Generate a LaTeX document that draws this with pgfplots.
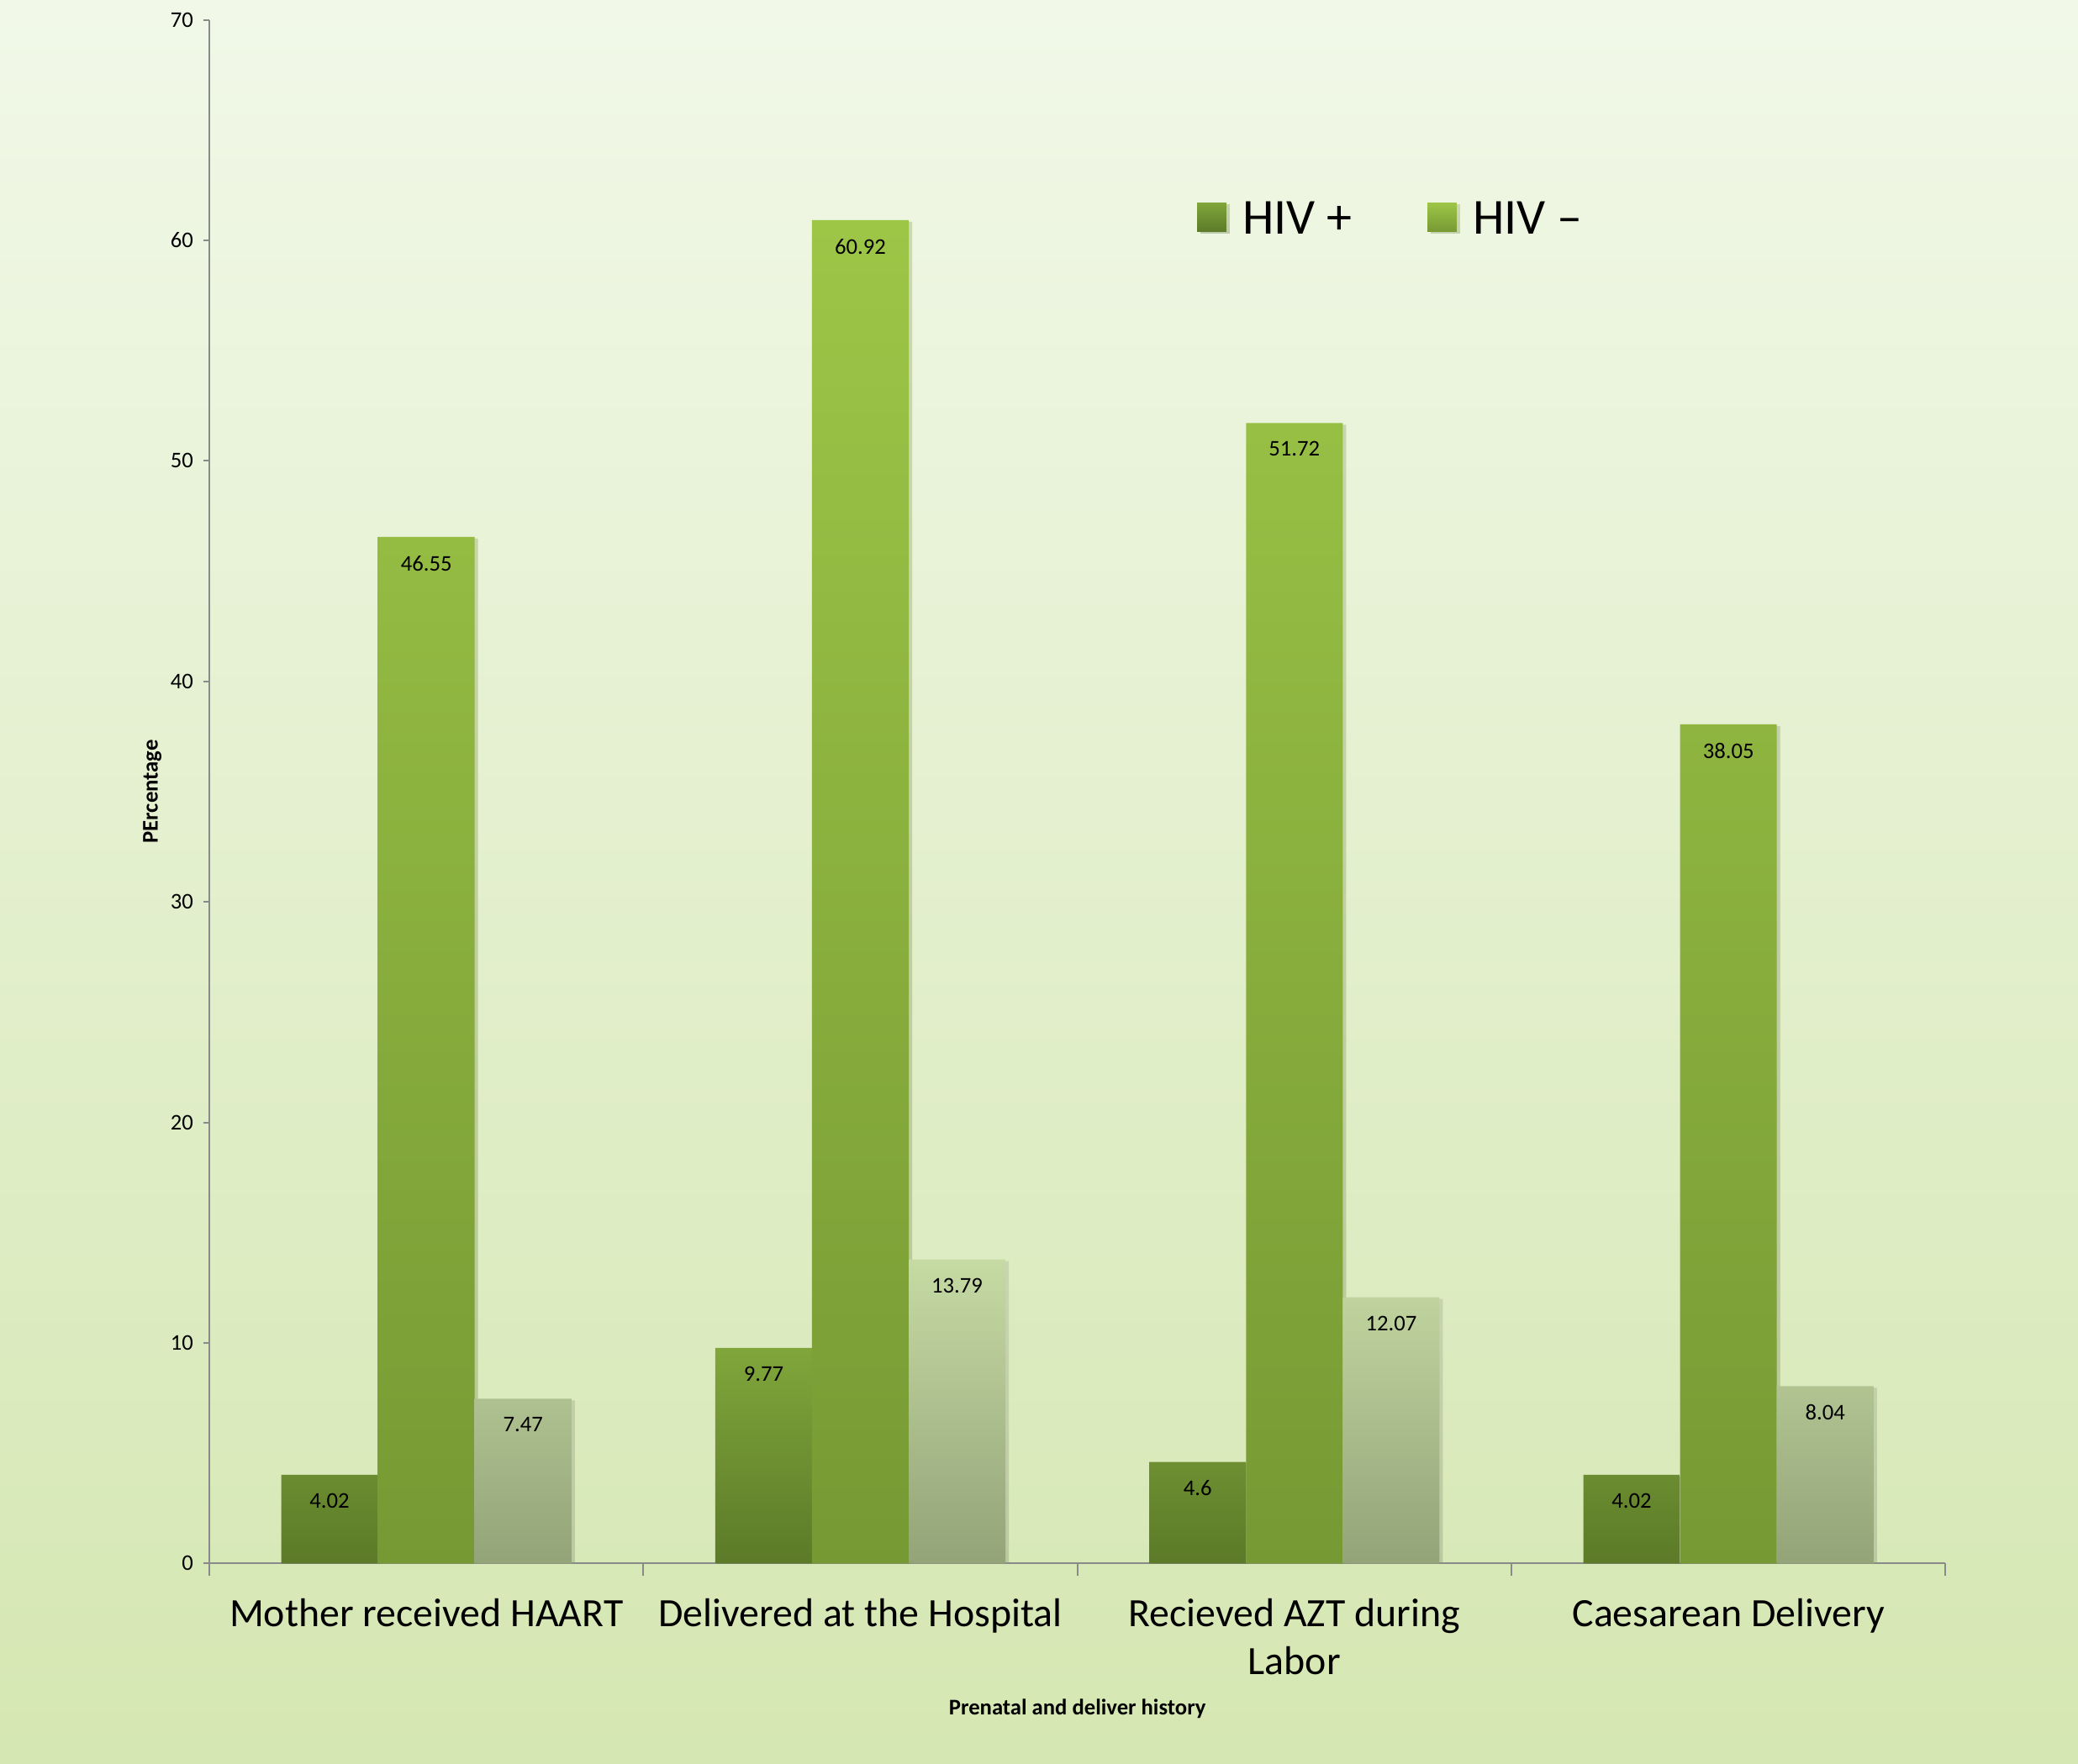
\documentclass[border=0pt]{standalone}
\usepackage{fontspec}
\setmainfont{Carlito}
\usepackage{pgfplots}
\pgfplotsset{compat=1.18}
\usetikzlibrary{shadows}

\definecolor{bgtop}{HTML}{F1F8E8}
\definecolor{bgbot}{HTML}{D5E7B2}
\definecolor{posTop}{HTML}{80A63B}
\definecolor{posBot}{HTML}{5C7A28}
\definecolor{negTop}{HTML}{9DC647}
\definecolor{negBot}{HTML}{779934}
\definecolor{thTop}{HTML}{C6DAA4}
\definecolor{thBot}{HTML}{93A478}
\definecolor{axgray}{HTML}{8A8A8A}

\begin{document}
\begin{tikzpicture}
\useasboundingbox (-74.7pt,-71.4pt) rectangle (666.9pt,558.1pt);
\shade[top color=bgtop, bottom color=bgbot] (-74.7pt,-71.4pt) rectangle (666.9pt,558.1pt);

\begin{axis}[
  at={(0,0)}, anchor=south west,
  width=619.6pt, height=551pt, scale only axis,
  /pgf/number format/assume math mode=true,
  xmin=-0.5, xmax=3.5,
  ymin=0, ymax=70,
  axis lines*=left,
  axis line style={axgray, line width=0.6pt},
  tick align=outside,
  major tick length=2.2pt,
  minor tick length=4.5pt,
  tick style={axgray, line width=0.6pt},
  ytick={0,10,...,70},
  yticklabel style={font=\fontsize{8}{9.6}\selectfont},
  xtick={0,1,2,3},
  xticklabels={Mother received HAART, Delivered at the Hospital, Recieved AZT during\\Labor, Caesarean Delivery},
  every major x tick/.append style={draw=none},
  minor xtick={-0.5,0.5,1.5,2.5,3.5},
  xticklabel style={font=\fontsize{14.35}{17}\selectfont, align=center, anchor=north, inner sep=0pt, yshift=-10.3pt},
  xlabel={Prenatal and deliver history},
  ylabel={PErcentage},
  every axis x label/.style={at={(axis description cs:0.5,-0.0944)}, anchor=center, font=\bfseries\fontsize{8}{9.6}\selectfont},
  every axis y label/.style={at={(axis description cs:-0.0328,0.5)}, rotate=90, anchor=center, font=\bfseries\fontsize{8}{9.6}\selectfont},
  ybar, bar width=0.2229,
  nodes near coords,
  every node near coord/.append style={font=\fontsize{8}{9.6}\selectfont, anchor=north, inner sep=0pt, yshift=-6.5pt, black},
  legend columns=2,
  legend style={at={(axis description cs:0.5687,0.8705)}, anchor=west, draw=none, fill=none, inner sep=0pt,
    font=\fontsize{18}{21.6}\selectfont, cells={anchor=west},
    /tikz/every even column/.append style={column sep=25pt}},
  legend image code/.code={\fill[#1] (0pt,-4.3pt) rectangle (10.4pt,6.1pt); \path (14.2pt,0pt);},
]
\addplot[bar shift=-0.2229, draw=none, top color=posTop, bottom color=posBot,
  drop shadow={shadow xshift=1.2pt, shadow yshift=-0.6pt, opacity=0.2}]
  coordinates {(0,4.02) (1,9.77) (2,4.6) (3,4.02)};
\addplot[bar shift=0, draw=none, top color=negTop, bottom color=negBot,
  drop shadow={shadow xshift=1.2pt, shadow yshift=-0.6pt, opacity=0.2}]
  coordinates {(0,46.55) (1,60.92) (2,51.72) (3,38.05)};
\addplot[bar shift=0.2229, draw=none, top color=thTop, bottom color=thBot, forget plot,
  drop shadow={shadow xshift=1.2pt, shadow yshift=-0.6pt, opacity=0.2}]
  coordinates {(0,7.47) (1,13.79) (2,12.07) (3,8.04)};
\legend{HIV +, HIV --}
\end{axis}
\end{tikzpicture}
\end{document}
